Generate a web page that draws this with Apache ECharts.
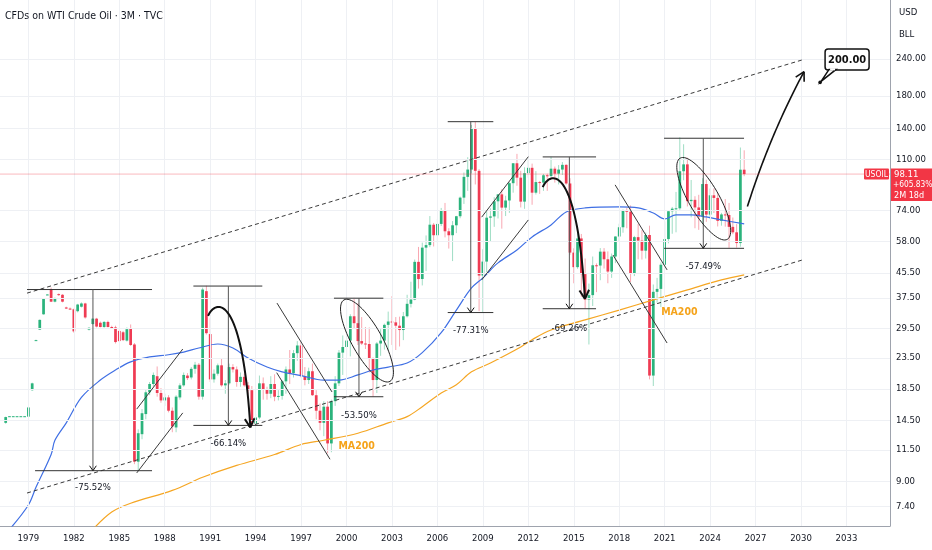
<!DOCTYPE html>
<html>
<head>
<meta charset="utf-8">
<script src="https://cdn.jsdelivr.net/npm/echarts@6/dist/echarts.min.js"></script>
<style>
html,body{margin:0;padding:0;background:#ffffff;}
#chart{width:932px;height:550px;}
</style>
</head>
<body>
<div id="chart"></div>
<script>
// ---------------- DATA ----------------
const chartTitle = 'CFDs on WTI Crude Oil · 3M · TVC';
const axisFirstQuarter = [1977, 2];   // first slot of the time axis
const axisLastQuarter = [2035, 4];    // last slot of the time axis
const firstCandle = '1977Q3';

// quarterly OHLC, grouped by year
const opens = [
  14.2, 14.9,                       // 1977 Q3-Q4
  14.95, 14.95, 14.95, 14.95,       // 1978
  14.9, 18.3, 27.0, 29.3,           // 1979
  33.0, 38.4, 40.1, 36.4,           // 1980
  38.6, 38.4, 34.8, 34.5,           // 1981
  34.3, 33.8, 35.0, 35.9,           // 1982
  29.3, 30.6, 31.9, 30.9,           // 1983
  29.9, 31.1, 29.9, 29.8,           // 1984
  29.0, 28.7, 26.9, 29.5,           // 1985
  26.1, 10.5, 13.0, 15.2,           // 1986
  18.0, 19.2, 20.4, 17.9,           // 1987
  16.9, 17.3, 15.6, 13.7,           // 1988
  17.3, 19.0, 20.5, 20.2,           // 1989
  21.6, 22.3, 17.4, 39.5,           // 1990
  28.3, 19.9, 20.8, 22.2,           // 1991
  19.0, 19.3, 21.9, 21.5,           // 1992
  19.5, 20.3, 19.0, 18.3,           // 1993
  14.1, 14.8, 19.3, 18.4,           // 1994
  17.8, 19.2, 17.4, 17.5,           // 1995
  19.6, 21.5, 20.9, 24.4,           // 1996
  25.9, 20.4, 19.8, 21.2,           // 1997
  17.6, 15.6, 14.2, 16.1,           // 1998
  12.1, 16.8, 19.3, 24.5,           // 1999
  25.6, 26.9, 32.5, 30.8,           // 2000
  26.8, 26.3, 26.2, 23.4,           // 2001
  19.8, 26.3, 26.9, 30.4,           // 2002
  31.2, 31.0, 30.2, 29.2,           // 2003
  32.5, 35.8, 37.0, 49.6,           // 2004
  43.4, 55.4, 56.5, 66.2,           // 2005
  61.0, 66.6, 73.9, 62.9,           // 2006
  61.0, 65.9, 70.7, 81.7,           // 2007
  96.0, 101.6, 140.0, 100.6,        // 2008
  44.6, 49.7, 69.9, 70.6,           // 2009
  79.4, 83.8, 75.6, 79.9,           // 2010
  91.4, 106.7, 95.4, 79.2,          // 2011
  98.8, 103.0, 84.9, 92.2,          // 2012
  91.8, 97.2, 96.6, 102.3,          // 2013
  98.4, 101.6, 105.4, 91.2,         // 2014
  53.3, 47.6, 59.5, 45.1,           // 2015
  37.0, 38.3, 48.3, 48.2,           // 2016
  53.7, 50.6, 46.0, 51.7,           // 2017
  60.4, 64.9, 74.1, 73.2,           // 2018
  45.4, 60.1, 58.5, 54.1,           // 2019
  61.1, 20.5, 39.3, 40.2,           // 2020
  48.5, 59.2, 73.5, 75.0,           // 2021
  75.2, 100.3, 105.8, 79.5,         // 2022
  80.3, 75.7, 70.6, 90.8,           // 2023
  71.6, 83.2, 81.5, 68.2,           // 2024
  71.7, 71.4, 65.1, 62.4,           // 2025
  57.4, 101.5                       // 2026 Q1-Q2
];
const highs = [
  14.9, 14.95,
  14.95, 14.95, 14.95, 14.95,
  16.1, 19.4, 27.1, 31.7,
  37.4, 38.6, 40.6, 37.6,
  38.8, 38.6, 35.0, 34.8,
  34.5, 35.8, 36.2, 36.1,
  29.9, 32.0, 32.1, 31.2,
  31.3, 31.4, 30.2, 30.2,
  29.3, 29.0, 29.8, 30.5,
  26.4, 13.5, 15.8, 18.3,
  19.5, 21.0, 22.0, 18.6,
  17.8, 17.6, 16.0, 17.6,
  19.3, 21.0, 20.9, 21.9,
  22.8, 22.6, 40.6, 41.2,
  32.0, 21.5, 22.5, 23.5,
  19.8, 22.5, 22.4, 22.0,
  21.0, 20.8, 19.5, 18.9,
  15.2, 20.5, 20.2, 18.8,
  20.4, 20.7, 18.3, 19.8,
  22.0, 25.0, 25.0, 26.8,
  26.6, 21.9, 21.8, 22.5,
  18.3, 16.5, 16.8, 16.8,
  17.0, 20.4, 25.0, 28.0,
  34.4, 33.0, 37.5, 36.0,
  32.3, 29.9, 29.8, 23.6,
  26.6, 29.4, 30.7, 33.7,
  38.0, 32.3, 32.4, 33.6,
  38.4, 42.5, 50.5, 55.7,
  57.6, 60.9, 70.8, 67.1,
  69.2, 75.4, 78.4, 64.4,
  68.1, 70.9, 82.4, 99.3,
  111.8, 143.7, 147.3, 102.0,
  54.7, 73.4, 75.2, 82.0,
  83.9, 87.2, 82.9, 92.1,
  106.9, 114.8, 100.6, 103.4,
  110.6, 106.4, 100.4, 93.0,
  98.2, 98.4, 112.2, 104.0,
  105.2, 107.7, 105.8, 95.0,
  55.1, 62.6, 61.6, 50.9,
  41.9, 51.7, 49.0, 55.2,
  55.2, 53.8, 52.9, 60.5,
  66.7, 74.5, 75.3, 76.9,
  60.7, 66.6, 63.4, 62.3,
  65.7, 41.6, 43.8, 49.4,
  67.9, 74.0, 76.0, 85.4,
  130.5, 123.7, 111.4, 93.7,
  82.6, 83.5, 95.0, 93.9,
  87.7, 87.7, 84.5, 72.6,
  80.8, 78.4, 70.0, 66.5,
  120.6, 118.0
];
const lows = [
  14.1, 14.9,
  14.9, 14.9, 14.9, 14.9,
  14.9, 18.2, 26.9, 29.2,
  32.9, 38.3, 36.3, 36.2,
  38.1, 36.2, 34.4, 34.2,
  28.6, 33.5, 34.8, 31.9,
  29.1, 30.4, 29.8, 29.8,
  29.7, 29.8, 29.5, 26.3,
  26.6, 26.8, 26.7, 25.8,
  10.3, 9.8, 12.5, 14.6,
  17.6, 18.8, 17.4, 16.6,
  16.2, 15.4, 13.2, 13.2,
  17.0, 18.8, 19.8, 19.9,
  20.8, 17.0, 17.0, 28.2,
  19.5, 19.4, 20.5, 18.8,
  17.8, 19.1, 21.0, 18.8,
  18.8, 18.8, 17.7, 13.9,
  13.9, 14.6, 17.0, 17.0,
  17.2, 16.8, 16.9, 17.0,
  17.8, 19.2, 20.2, 23.0,
  20.2, 19.0, 19.2, 17.5,
  14.6, 13.4, 12.8, 11.2,
  11.3, 16.2, 18.9, 20.6,
  23.9, 23.8, 29.5, 26.0,
  26.0, 25.2, 21.0, 17.4,
  17.9, 23.9, 25.1, 24.9,
  26.0, 25.0, 25.7, 27.0,
  32.2, 34.8, 36.8, 40.3,
  41.3, 46.2, 55.6, 55.9,
  57.6, 65.5, 60.0, 55.0,
  49.9, 62.0, 69.6, 77.8,
  86.1, 98.6, 90.5, 33.8,
  33.5, 45.8, 58.3, 65.1,
  69.5, 64.2, 70.8, 72.6,
  84.9, 89.6, 75.7, 74.9,
  95.4, 77.3, 83.7, 84.1,
  86.1, 86.1, 96.0, 91.8,
  90.5, 97.4, 90.4, 52.4,
  42.0, 47.0, 37.8, 34.5,
  26.1, 35.2, 39.2, 43.0,
  47.1, 42.0, 43.8, 49.1,
  58.1, 62.2, 64.4, 42.4,
  44.4, 50.6, 50.5, 50.9,
  19.9, 18.9, 36.1, 34.9,
  47.3, 57.3, 61.7, 62.4,
  74.3, 93.5, 76.3, 70.1,
  64.4, 63.6, 67.0, 67.7,
  69.2, 72.5, 65.3, 65.7,
  65.2, 55.3, 61.5, 55.4,
  55.8, 96.5
];
const closes = [
  14.85, 14.95,
  14.95, 14.95, 14.95, 14.95,
  16.0, 19.3, 27.0, 31.6,
  37.2, 38.5, 36.4, 37.3,
  38.3, 36.4, 34.5, 34.4,
  28.9, 35.6, 35.9, 32.2,
  29.7, 31.9, 30.0, 29.9,
  31.1, 29.9, 29.8, 26.6,
  26.8, 27.0, 29.4, 26.0,
  10.5, 13.1, 15.3, 18.0,
  19.2, 20.6, 17.9, 16.9,
  17.3, 15.6, 13.8, 17.4,
  19.0, 20.6, 20.1, 21.6,
  22.3, 17.4, 40.0, 28.5,
  19.9, 20.8, 22.2, 19.0,
  19.3, 21.9, 21.5, 19.5,
  20.3, 19.0, 18.3, 14.1,
  14.8, 19.3, 18.4, 17.8,
  19.2, 17.4, 17.5, 19.6,
  21.5, 20.9, 24.4, 25.9,
  20.4, 19.8, 21.2, 17.6,
  15.6, 14.2, 16.1, 12.1,
  16.8, 19.3, 24.5, 25.6,
  26.9, 32.5, 30.8, 26.8,
  26.3, 26.2, 23.4, 19.8,
  26.3, 26.9, 30.4, 31.2,
  31.0, 30.2, 29.2, 32.5,
  35.8, 37.0, 49.6, 43.4,
  55.4, 56.5, 66.2, 61.0,
  66.6, 73.9, 62.9, 61.0,
  65.9, 70.7, 81.7, 96.0,
  101.6, 140.0, 100.6, 44.6,
  49.7, 69.9, 70.6, 79.4,
  83.8, 75.6, 79.9, 91.4,
  106.7, 95.4, 79.2, 98.8,
  103.0, 84.9, 92.2, 91.8,
  97.2, 96.6, 102.3, 98.4,
  101.6, 105.4, 91.2, 53.3,
  47.6, 59.5, 45.1, 37.0,
  38.3, 48.3, 48.2, 53.7,
  50.6, 46.0, 51.7, 60.4,
  64.9, 74.1, 73.2, 45.4,
  60.1, 58.5, 54.1, 61.1,
  20.5, 39.3, 40.2, 48.5,
  59.2, 73.5, 75.0, 75.2,
  100.3, 105.8, 79.5, 80.3,
  75.7, 70.6, 90.8, 71.6,
  83.2, 81.5, 68.2, 71.7,
  71.4, 65.1, 62.4, 57.4,
  101.5, 98.11
];

// price-scale tick labels
const yTicks = [240, 180, 140, 110, 74, 58, 45.5, 37.5, 29.5, 23.5, 18.5, 14.5, 11.5, 9, 7.4];
const yMin = 6.37, yMax = 379.4;
const firstLabelYear = 1979, labelStepYears = 3;

// last price tags
const symbolName = 'USOIL';
const lastPrice = 98.11;
const lastChange = '+605.83%';
const barTimeLeft = '2M 18d';
const unitLabels = ['USD', 'BLL'];

// moving averages (quarter, value)
const maBlueQ = ['1977Q4','1979Q1','1979Q3','1980Q3','1980Q4','1981Q3','1982Q3','1983Q4','1984Q4','1985Q4','1987Q1','1988Q2','1989Q2','1990Q2','1991Q3','1992Q3','1993Q3','1994Q4','1995Q4','1997Q1','1998Q3','1999Q3','2000Q4','2001Q4','2002Q4','2004Q1','2005Q1','2006Q2','2007Q2','2008Q2','2009Q1','2010Q1','2011Q2','2012Q2','2013Q3','2014Q3','2015Q4','2018Q1','2019Q2','2020Q2','2021Q1','2021Q4','2022Q4','2023Q4','2024Q4','2026Q2'];
const maBlueV = [6.2,7.5,8.6,11.1,12.4,14.2,17.3,19.8,21.4,22.8,23.7,24.1,24.6,25.4,26.2,25.4,23.5,21.9,21.1,20.5,19.8,19.8,20.6,21.4,21.9,22.6,24.5,28.6,34.1,40.5,43.8,49.2,54.4,60.2,66.1,73.1,75.4,76.0,75.4,72.5,69.2,71.4,71.4,70.3,68.7,66.6];
const ma200Q = ['1983Q2','1984Q3','1985Q4','1988Q3','1990Q3','1992Q4','1995Q2','1997Q1','1998Q3','2000Q4','2002Q4','2004Q1','2005Q1','2006Q2','2007Q2','2008Q2','2009Q3','2011Q3','2012Q2','2013Q3','2015Q4','2018Q1','2020Q2','2022Q3','2024Q4','2026Q2'];
const ma200V = [6.2,7.1,7.6,8.4,9.3,10.2,11.1,12.0,12.4,13.1,14.2,14.9,16.1,17.9,19.1,21.1,22.6,25.6,27.1,29.2,31.6,34.1,36.9,39.9,43.1,44.8];

// drawings (time as decimal year, price)
const channelLines = [
  [1978.91, 38.9, 2030.07, 238.1],
  [1978.91, 8.23, 2030.07, 50.3]
];
const guideLines = [
  [1986.15, 15.8, 1989.19, 25.2],
  [1986.15, 9.62, 1989.19, 15.34],
  [1995.41, 36.0, 1999.04, 18.05],
  [1995.39, 20.97, 1998.91, 10.7],
  [2008.92, 70.2, 2012.0, 112.3],
  [2008.92, 43.1, 2012.0, 68.7],
  [2017.73, 90.2, 2021.16, 46.6],
  [2017.59, 52.3, 2021.16, 26.4]
];
// [top from, top to, bottom from, bottom to, arrow at, top price, bottom price]
const measures = [
  [1978.91, 1987.16, 1979.44, 1987.16, 1983.26, 40.0, 9.79],
  [1989.89, 1994.44, 1989.89, 1994.44, 1992.2, 41.1, 13.92],
  [1999.17, 2002.43, 1999.17, 2002.43, 2000.82, 37.4, 17.39],
  [2006.68, 2009.69, 2006.68, 2009.69, 2008.2, 147.4, 33.45],
  [2012.95, 2016.47, 2012.95, 2016.47, 2014.71, 112.1, 34.46],
  [2020.96, 2026.24, 2020.96, 2026.24, 2023.55, 129.6, 55.1]
];
const measureTexts = ['-75.52%', '-66.14%', '-53.50%', '-77.31%', '-69.26%', '-57.49%'];
const measureTextPrice = [8.56, 12.05, 15.0, 29.0, 29.6, 47.8];
const bendArrows = [
  [[1990.86, 32.6], [1991.32, 36.9], [1993.10, 39.9], [1993.65, 13.7]],
  [[2012.95, 88.6], [2013.41, 100.3], [2015.20, 108.4], [2015.74, 37.2]]
];
const targetArrow = [[2026.46, 76.2], [2027.96, 133], [2030.2, 217.4]];
const ellipses = [
  [1999.83, 36.9, 2002.87, 19.6],
  [2022.02, 111, 2025.14, 59.1]
];
const targetAt = [2031.26, 200];
const targetText = '200.00';
const maLabelAt = [[2000.67, 11.8], [2021.97, 33.4]];
const maLabelText = 'MA200';

// ---------------- STYLE ----------------
const FONT = "'Liberation Sans Narrow','Arial Narrow','DejaVu Sans Condensed','Liberation Sans',sans-serif";
const TXT = '#131722';
const UP = '#2bb37c', DOWN = '#ef3b53';
const UP_WICK = 'rgba(43,179,124,0.45)', DOWN_WICK = 'rgba(239,59,83,0.45)';
const INK = '#262626';
const TAG = '#f23645';

// ---------------- BUILD ----------------
const categories = [];
for (let y = axisFirstQuarter[0], q = axisFirstQuarter[1]; y < axisLastQuarter[0] || (y === axisLastQuarter[0] && q <= axisLastQuarter[1]); ) {
  categories.push(y + 'Q' + q);
  q++; if (q > 4) { q = 1; y++; }
}
const axisStartYear = axisFirstQuarter[0] + (axisFirstQuarter[1] - 1) / 4;
const firstIdx = categories.indexOf(firstCandle);
const candleData = opens.map((o, k) => [firstIdx + k, o, closes[k], lows[k], highs[k]]);
const isYearLabel = (v) => /Q1$/.test(v) && (parseInt(v, 10) - firstLabelYear) % labelStepYears === 0 && parseInt(v, 10) >= firstLabelYear;
const yearCats = categories.filter(isYearLabel);

function drawCandle(params, api) {
  const i = api.value(0), o = api.value(1), c = api.value(2), l = api.value(3), h = api.value(4);
  const pO = api.coord([i, o]), pC = api.coord([i, c]);
  const pL = api.coord([i, l]), pH = api.coord([i, h]);
  const band = api.coord([i + 1, o])[0] - pO[0];
  const w = band * 0.72;
  const up = c >= o;
  const x = pO[0];
  const top = Math.min(pO[1], pC[1]);
  const hgt = Math.max(1, Math.abs(pO[1] - pC[1]));
  return {
    type: 'group',
    children: [
      { type: 'line', shape: { x1: x, y1: pH[1], x2: x, y2: pL[1] }, style: { stroke: up ? UP_WICK : DOWN_WICK, lineWidth: 1 } },
      { type: 'rect', shape: { x: x - w / 2, y: top, width: w, height: hgt }, style: { fill: up ? UP : DOWN } }
    ]
  };
}

function drawAnnotations(params, api) {
  const cs = params.coordSys;
  const P = (t, p) => {
    const f = (t - axisStartYear) * 4;
    const i0 = Math.floor(f);
    const a = api.coord([i0, p]);
    const b = api.coord([i0 + 1, p]);
    return [a[0] + (f - i0) * (b[0] - a[0]), a[1]];
  };
  const kids = [];
  const seg = (a, b, st) => kids.push({ type: 'line', shape: { x1: a[0], y1: a[1], x2: b[0], y2: b[1] }, style: Object.assign({ stroke: INK, lineWidth: 1 }, st || {}) });
  const head = (tip, from, len, lw, spread) => {
    const ang = Math.atan2(tip[1] - from[1], tip[0] - from[0]);
    [ang + Math.PI - spread, ang + Math.PI + spread].forEach(a =>
      seg(tip, [tip[0] + len * Math.cos(a), tip[1] + len * Math.sin(a)], { lineWidth: lw, stroke: '#111' }));
  };
  const text = (pt, str, st) => kids.push({
    type: 'text', x: pt[0], y: pt[1],
    style: Object.assign({ text: str, fill: TXT, fontSize: 9.5, fontFamily: FONT, align: 'center', verticalAlign: 'middle', textAlign: 'center', textVerticalAlign: 'middle' }, st || {})
  });

  // trend channel
  channelLines.forEach(l => seg(P(l[0], l[1]), P(l[2], l[3]), { lineDash: [4, 3], stroke: '#3a3a3a' }));
  // thin guide lines
  guideLines.forEach(l => seg(P(l[0], l[1]), P(l[2], l[3]), { stroke: '#3a3a3a' }));
  // measurements
  measures.forEach((m, k) => {
    seg(P(m[0], m[5]), P(m[1], m[5]), { stroke: '#333' });
    seg(P(m[2], m[6]), P(m[3], m[6]), { stroke: '#333' });
    const vt = P(m[4], m[5]), vb = P(m[4], m[6]);
    seg(vt, vb, { stroke: '#555' });
    head(vb, vt, 6, 1, 0.6);
    text(P(m[4], measureTextPrice[k]), measureTexts[k]);
  });
  // curved arrows
  const cubic = (p0, p1, p2, p3, t) => {
    const u = 1 - t;
    return [
      u*u*u*p0[0] + 3*u*u*t*p1[0] + 3*u*t*t*p2[0] + t*t*t*p3[0],
      u*u*u*p0[1] + 3*u*u*t*p1[1] + 3*u*t*t*p2[1] + t*t*t*p3[1]
    ];
  };
  bendArrows.forEach(b => {
    const c = b.map(q => P(q[0], q[1]));
    const pts = [];
    for (let s = 0; s <= 40; s++) pts.push(cubic(c[0], c[1], c[2], c[3], s / 40));
    kids.push({ type: 'polyline', shape: { points: pts }, style: { stroke: '#111', lineWidth: 2, fill: 'none' } });
    head(pts[40], pts[36], 10, 2, 0.5);
  });
  {
    const c = targetArrow.map(q => P(q[0], q[1]));
    const pts = [];
    for (let s = 0; s <= 40; s++) {
      const t = s / 40, u = 1 - t;
      pts.push([u*u*c[0][0] + 2*u*t*c[1][0] + t*t*c[2][0], u*u*c[0][1] + 2*u*t*c[1][1] + t*t*c[2][1]]);
    }
    kids.push({ type: 'polyline', shape: { points: pts }, style: { stroke: '#111', lineWidth: 1.6, fill: 'none' } });
    head(pts[40], pts[37], 10, 1.6, 0.5);
  }
  // ellipses
  ellipses.forEach(e => {
    const a = P(e[0], e[1]), b = P(e[2], e[3]);
    const cx = (a[0] + b[0]) / 2, cy = (a[1] + b[1]) / 2;
    const ra = Math.hypot(b[0] - a[0], b[1] - a[1]) / 2, rb = 15;
    const th = Math.atan2(b[1] - a[1], b[0] - a[0]);
    const pts = [];
    for (let s = 0; s <= 72; s++) {
      const f = s / 72 * Math.PI * 2;
      pts.push([cx + ra * Math.cos(f) * Math.cos(th) - rb * Math.sin(f) * Math.sin(th),
                cy + ra * Math.cos(f) * Math.sin(th) + rb * Math.sin(f) * Math.cos(th)]);
    }
    kids.push({ type: 'polyline', shape: { points: pts }, style: { stroke: '#222', lineWidth: 1, fill: 'none' } });
  });
  // MA200 labels
  maLabelAt.forEach(p => text(P(p[0], p[1]), maLabelText, { fill: '#f5a31a', fontSize: 10.5, fontWeight: 'bold' }));
  // target callout
  {
    const A = P(targetAt[0], targetAt[1]);
    const bx = A[0] + 5, by = A[1] - 33.5, bw = 44, bh = 21;
    kids.push({ type: 'rect', shape: { x: bx, y: by, width: bw, height: bh, r: 3 }, style: { fill: '#fff', stroke: '#111', lineWidth: 1.5 } });
    kids.push({ type: 'polygon', shape: { points: [[A[0] + 9, by + bh - 0.5], [A[0] + 1, A[1] - 1], [A[0] + 16, by + bh - 0.5]] }, style: { fill: '#fff', stroke: '#111', lineWidth: 1.5 } });
    kids.push({ type: 'line', shape: { x1: A[0] + 10, y1: by + bh - 0.6, x2: A[0] + 15, y2: by + bh - 0.6 }, style: { stroke: '#fff', lineWidth: 2 } });
    kids.push({ type: 'circle', shape: { cx: A[0], cy: A[1], r: 1.8 }, style: { fill: '#111' } });
    text([bx + bw / 2, by + bh / 2 + 0.5], targetText, { fontSize: 11, fontWeight: 'bold', fill: '#111' });
  }
  // last price line and tags
  {
    const py = P(2000, lastPrice)[1];
    const R = cs.x + cs.width;
    seg([cs.x, py], [R, py], { stroke: 'rgba(242,54,69,0.35)' });
    kids.push({ type: 'rect', shape: { x: R - 26, y: py - 5.5, width: 25, height: 11, r: 1 }, style: { fill: TAG } });
    text([R - 13.5, py + 0.5], symbolName, { fill: '#fff', fontSize: 8.5 });
    kids.push({ type: 'rect', shape: { x: R + 1, y: py - 5.5, width: 41, height: 32.5 }, style: { fill: TAG } });
    text([R + 4, py + 0.5], lastPrice.toFixed(2), { fill: '#fff', fontSize: 9.5, align: 'left', textAlign: 'left' });
    text([R + 3, py + 11], lastChange, { fill: '#fff', fontSize: 8.3, align: 'left', textAlign: 'left' });
    text([R + 4, py + 21.5], barTimeLeft, { fill: '#fff', fontSize: 9, align: 'left', textAlign: 'left' });
  }
  return { type: 'group', children: kids };
}

const chart = echarts.init(document.getElementById('chart'), null, { renderer: 'canvas' });
chart.setOption({
  animation: false,
  backgroundColor: '#ffffff',
  title: { text: chartTitle, left: 2, top: 8, padding: [3, 3], textStyle: { fontSize: 10.5, fontWeight: 'normal', color: TXT, fontFamily: FONT } },
  graphic: unitLabels.map((s, k) => ({ type: 'text', left: 899, top: 8 + k * 22, style: { text: s, fill: TXT, fontSize: 9.5, fontFamily: FONT } })),
  grid: { left: 0, right: 42, top: 0, bottom: 24, containLabel: false, outerBoundsMode: 'none' },
  xAxis: {
    type: 'category', data: categories, boundaryGap: true,
    axisLine: { show: true, lineStyle: { color: '#9ea3ad' } },
    axisTick: { show: false },
    axisLabel: { interval: (i, v) => isYearLabel(v), formatter: v => v.slice(0, 4), color: TXT, fontSize: 9.5, fontFamily: FONT, margin: 8 },
    splitLine: { show: false }
  },
  yAxis: {
    type: 'log', logBase: 10, position: 'right', min: yMin, max: yMax,
    axisLine: { show: true, lineStyle: { color: '#9ea3ad' } },
    axisTick: { show: false, customValues: yTicks },
    axisLabel: { customValues: yTicks, formatter: v => Number(v).toFixed(2), color: TXT, fontSize: 9.5, fontFamily: FONT, margin: 6 },
    splitLine: { show: false }
  },
  series: [
    {
      type: 'line', data: [], z: 0, silent: true,
      markLine: {
        silent: true, symbol: ['none', 'none'], label: { show: false }, animation: false,
        lineStyle: { color: '#eef0f4', width: 1, type: 'solid' },
        data: yTicks.map(v => ({ yAxis: v })).concat(yearCats.map(c => ({ xAxis: c })))
      }
    },
    {
      type: 'custom', name: 'USOIL', renderItem: drawCandle, data: candleData, z: 2, clip: true,
      dimensions: ['i', 'open', 'close', 'low', 'high'], encode: { x: 0, y: [1, 2, 3, 4] }
    },
    {
      type: 'line', name: 'MA', data: maBlueQ.map((q, k) => [q, maBlueV[k]]), z: 3,
      showSymbol: false, smooth: 0.35, clip: true, lineStyle: { color: '#3f6fe4', width: 1.2 }
    },
    {
      type: 'line', name: 'MA200', data: ma200Q.map((q, k) => [q, ma200V[k]]), z: 3,
      showSymbol: false, smooth: 0.35, clip: true, lineStyle: { color: '#f5a623', width: 1.2 }
    },
    {
      type: 'custom', renderItem: drawAnnotations, data: [[0, 100]], z: 10, silent: true, clip: false,
      encode: { x: 0, y: 1 }
    }
  ]
});
</script>
</body>
</html>
